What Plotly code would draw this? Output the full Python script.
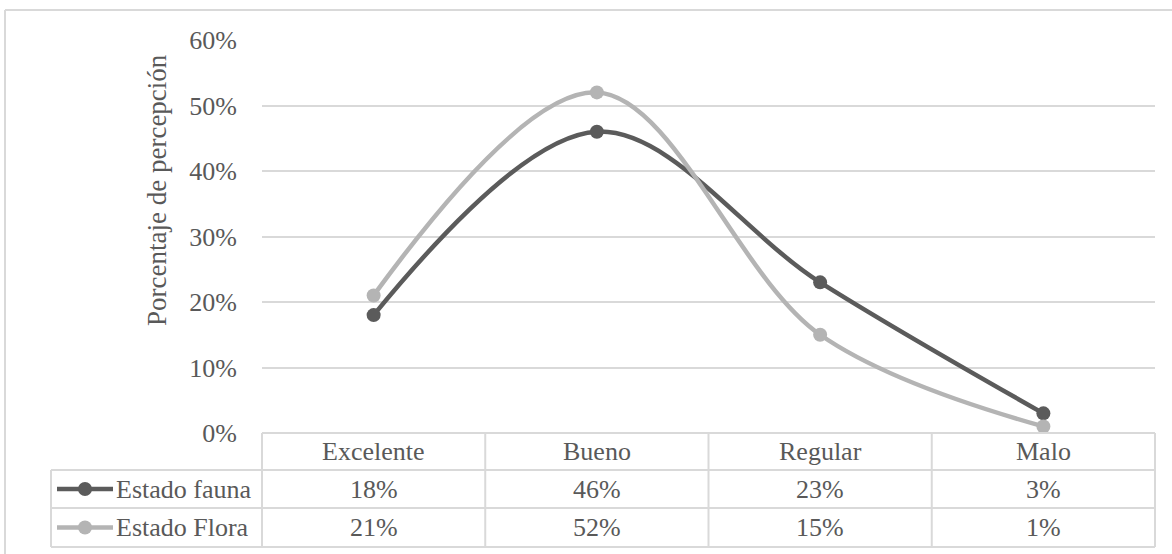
import plotly.graph_objects as go

categories = ["Excelente", "Bueno", "Regular", "Malo"]
fauna = [0.18, 0.46, 0.23, 0.03]
flora = [0.21, 0.52, 0.15, 0.01]
series_names = ["Estado fauna", "Estado Flora"]
y_ticks = [0, 0.1, 0.2, 0.3, 0.4, 0.5, 0.6]
y_title = "Porcentaje de percepción"

W, H = 1172, 554
L, R, T, B = 262, 1155, 40, 433
PW, PH = R - L, B - T
FONT = "Liberation Serif, Times New Roman, serif"
TXT = "#595959"
GRID = "#d9d9d9"
COLORS = ["#5b5b5b", "#b4b4b4"]
FS = 26


def px(x):
    return (x - L) / PW


def py(y):
    return (B - y) / PH


fig = go.Figure()
for name, vals, col in zip(series_names, [fauna, flora], COLORS):
    fig.add_trace(go.Scatter(
        x=categories, y=vals, name=name, mode="lines+markers",
        line=dict(color=col, width=4.5, shape="spline", smoothing=1.0),
        marker=dict(color=col, size=14), cliponaxis=False, showlegend=False,
    ))

shapes = []
line = dict(color=GRID, width=2)
# chart border
shapes.append(dict(type="line", xref="paper", yref="paper", x0=px(5), x1=px(1180), y0=py(10), y1=py(10), line=line))
shapes.append(dict(type="line", xref="paper", yref="paper", x0=px(5), x1=px(5), y0=py(10), y1=py(560), line=line))
# table
rows_y = [433, 470, 508, 547]
shapes.append(dict(type="line", xref="paper", yref="paper", x0=0, x1=1, y0=py(433), y1=py(433), line=line))
for yy in rows_y[1:]:
    shapes.append(dict(type="line", xref="paper", yref="paper", x0=px(51), x1=1, y0=py(yy), y1=py(yy), line=line))
for xx in [0, 0.25, 0.5, 0.75, 1.0]:
    shapes.append(dict(type="line", xref="paper", yref="paper", x0=xx, x1=xx, y0=py(433), y1=py(547), line=line))
shapes.append(dict(type="line", xref="paper", yref="paper", x0=px(51), x1=px(51), y0=py(470), y1=py(547), line=line))

annotations = []
tf = dict(family=FONT, size=FS, color=TXT)
# y title
annotations.append(dict(text=y_title, xref="paper", yref="paper", x=px(157), y=py(190), textangle=-90,
                        xanchor="center", yanchor="middle", showarrow=False,
                        font=dict(family=FONT, size=27, color=TXT)))
row_centers = [(433 + 470) / 2, (470 + 508) / 2, (508 + 547) / 2]
for c in categories:
    annotations.append(dict(text=c, xref="x", yref="paper", x=c, y=py(row_centers[0]), showarrow=False,
                            xanchor="center", yanchor="middle", font=tf))
for i, (name, vals, col) in enumerate(zip(series_names, [fauna, flora], COLORS)):
    yc = row_centers[i + 1]
    for c, v in zip(categories, vals):
        annotations.append(dict(text=f"{round(v * 100)}%", xref="x", yref="paper", x=c, y=py(yc),
                                xanchor="center", yanchor="middle", showarrow=False, font=tf))
    annotations.append(dict(text=name, xref="paper", yref="paper", x=px(114), y=py(yc), xanchor="left",
                            yanchor="middle", showarrow=False, font=tf))
    shapes.append(dict(type="line", xref="paper", yref="paper", x0=px(57), x1=px(113), y0=py(yc), y1=py(yc),
                       line=dict(color=col, width=4.5)))
    shapes.append(dict(type="circle", xref="paper", yref="paper", x0=px(78), x1=px(92), y0=py(yc - 7), y1=py(yc + 7),
                       fillcolor=col, line=dict(color=col, width=0)))

fig.update_layout(
    width=W, height=H, margin=dict(l=L, r=W - R, t=T, b=H - B, autoexpand=False),
    paper_bgcolor="white", plot_bgcolor="white",
    font=dict(family=FONT, size=FS, color=TXT),
    xaxis=dict(range=[-0.5, 3.5], showticklabels=False, showgrid=False, zeroline=False, showline=False, ticks=""),
    yaxis=dict(range=[0, 0.6], tickvals=y_ticks, tickformat=".0%", showgrid=True, gridcolor=GRID, gridwidth=1.5,
               zeroline=False, showline=False, ticks="outside", ticklen=19, tickcolor="rgba(0,0,0,0)",
               tickfont=tf),
    shapes=shapes, annotations=annotations,
)
fig.write_html("out.html", config={"displayModeBar": False},
               post_script="document.body.style.margin='0';document.body.style.overflow='hidden';")
